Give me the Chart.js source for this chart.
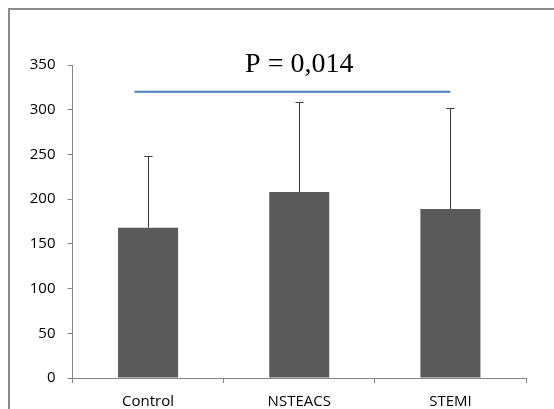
<!DOCTYPE html>
<html>
<head>
<meta charset="utf-8">
<script src="https://cdn.jsdelivr.net/npm/chart.js@4/dist/chart.umd.min.js"></script>
<style>
html,body{margin:0;padding:0;background:#fff;}
#wrap{width:554px;height:409px;position:relative;}
</style>
</head>
<body>
<div id="wrap"><canvas id="c" width="554" height="409"></canvas></div>
<script>
const categories = ["Control", "NSTEACS", "STEMI"];
const means = [168, 208, 189];
const errorTops = [248, 308.5, 302];
const yTicks = [0, 50, 100, 150, 200, 250, 300, 350];
const pText = "P = 0,014";
const bracketValue = 320;
const bracketFrom = -0.09;   // in category units
const bracketTo = 2;
const pTextCategory = 1;
const pTextValue = 342;

const framePlugin = {
  id: 'frame',
  beforeDraw(chart) {
    const ctx = chart.ctx;
    ctx.save();
    ctx.strokeStyle = '#8a8a8a';
    ctx.lineWidth = 2;
    ctx.strokeRect(9, 9, 700, 600);
    ctx.restore();
  }
};

const errPlugin = {
  id: 'errbars',
  afterDatasetsDraw(chart) {
    const ctx = chart.ctx;
    const x = chart.scales.x, y = chart.scales.y;
    ctx.save();
    ctx.strokeStyle = '#3c3c3c';
    ctx.lineWidth = 1;
    errorTops.forEach((v, i) => {
      const px = Math.round(x.getPixelForValue(i)) + 0.5;
      const top = Math.round(y.getPixelForValue(v)) + 0.5;
      const base = y.getPixelForValue(means[i]);
      ctx.beginPath();
      ctx.moveTo(px, base);
      ctx.lineTo(px, top);
      ctx.moveTo(px - 4, top);
      ctx.lineTo(px + 4, top);
      ctx.stroke();
    });
    // bracket line
    const cw = x.getPixelForValue(1) - x.getPixelForValue(0);
    const x0 = x.getPixelForValue(0) + bracketFrom * cw;
    const x1 = x.getPixelForValue(0) + bracketTo * cw;
    const by = y.getPixelForValue(bracketValue);
    ctx.strokeStyle = '#4a7ebb';
    ctx.lineWidth = 2;
    ctx.beginPath();
    ctx.moveTo(x0, by);
    ctx.lineTo(x1, by);
    ctx.stroke();
    // P text
    ctx.fillStyle = '#000';
    ctx.font = '28px "Liberation Serif", "Times New Roman", serif';
    ctx.textAlign = 'center';
    ctx.textBaseline = 'alphabetic';
    ctx.fillText(pText, x.getPixelForValue(pTextCategory), y.getPixelForValue(pTextValue));
    ctx.restore();
  }
};

new Chart(document.getElementById('c'), {
  type: 'bar',
  data: {
    labels: categories,
    datasets: [{
      data: means,
      backgroundColor: '#595959',
      borderWidth: 0,
      categoryPercentage: 1,
      barPercentage: 0.397
    }]
  },
  options: {
    responsive: false,
    animation: false,
    devicePixelRatio: 1,
    layout: { padding: { top: 65, right: 28, left: 0, bottom: 0 } },
    plugins: { legend: { display: false }, tooltip: { enabled: false } },
    scales: {
      x: {
        offset: true,
        grid: { offset: true, drawOnChartArea: false, drawTicks: true, tickLength: 5, color: '#868686' },
        border: { display: true, color: '#868686', width: 1 },
        ticks: { color: '#000', font: { family: '"Open Sans"', size: 15 }, padding: 10 },
        afterFit(s) { s.height = 31; }
      },
      y: {
        min: 0, max: 350,
        afterBuildTicks(s) { s.ticks = yTicks.map(v => ({ value: v })); },
        grid: { drawOnChartArea: false, drawTicks: true, tickLength: 5, color: '#868686' },
        border: { display: true, color: '#868686', width: 1 },
        ticks: { color: '#000', font: { family: '"Open Sans"', size: 15 }, padding: 12 },
        afterFit(s) { s.width = 72.5; }
      }
    }
  },
  plugins: [framePlugin, errPlugin]
});
</script>
</body>
</html>
